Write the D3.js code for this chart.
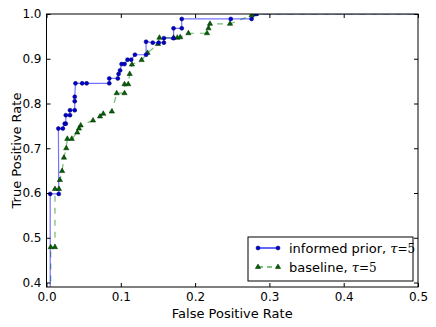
<!DOCTYPE html>
<html>
<head>
<meta charset="utf-8">
<script src="https://cdn.jsdelivr.net/npm/d3@7"></script>
<style>
  body { margin: 0; background: #fff; }
  text { font-family: "DejaVu Sans", sans-serif; }
</style>
</head>
<body>
<div id="chart-area"></div>
<script>
// ROC points: false positive rate / true positive rate
var informedFpr = [0.005, 0.005, 0.0165, 0.016, 0.022, 0.0245, 0.026, 0.026, 0.0316, 0.0316, 0.038, 0.038, 0.038,
    0.039, 0.048, 0.054, 0.0845, 0.0845, 0.096, 0.097, 0.099, 0.101, 0.105, 0.109, 0.114, 0.119, 0.134,
    0.134, 0.143, 0.151, 0.158, 0.158, 0.171, 0.171, 0.182, 0.182, 0.248, 0.276, 0.282, 1.0];
var informedTpr = [0.0, 0.598, 0.598, 0.744, 0.744, 0.755, 0.755, 0.774, 0.774, 0.785, 0.785, 0.805, 0.815,
    0.845, 0.845, 0.845, 0.845, 0.856, 0.856, 0.866, 0.874, 0.888, 0.888, 0.898, 0.898, 0.909, 0.909,
    0.938, 0.936, 0.936, 0.936, 0.946, 0.946, 0.968, 0.968, 0.989, 0.989, 0.989, 1.0, 1.0];

var baselineFpr = [0.0057, 0.0057, 0.0114, 0.0114, 0.0168, 0.018, 0.021, 0.0235, 0.0266, 0.028, 0.034,
    0.0414, 0.0437, 0.046, 0.0626, 0.072, 0.0764, 0.088, 0.0945, 0.105, 0.105, 0.110, 0.112, 0.115,
    0.128, 0.136, 0.150, 0.152, 0.171, 0.176, 0.180, 0.191, 0.216, 0.218, 0.220, 0.247, 0.276, 0.282, 1.0];
var baselineTpr = [0.0, 0.479, 0.479, 0.609, 0.609, 0.629, 0.649, 0.679, 0.700, 0.721, 0.721,
    0.735, 0.744, 0.751, 0.762, 0.771, 0.777, 0.782, 0.823, 0.823, 0.843, 0.843, 0.866, 0.887,
    0.897, 0.913, 0.933, 0.947, 0.947, 0.947, 0.948, 0.957, 0.957, 0.968, 0.978, 0.978, 0.997, 1.0, 1.0];

var xTicks = [0.0, 0.1, 0.2, 0.3, 0.4, 0.5];
var yTicks = [0.4, 0.5, 0.6, 0.7, 0.8, 0.9, 1.0];

var margin = { left: 46.5, right: 18, top: 14, bottom: 40 };
var width = 436 - margin.left - margin.right,
    height = 327 - margin.top - margin.bottom;

var svg = d3.select("#chart-area")
    .append("svg")
        .attr("width", 436)
        .attr("height", 327);
var g = svg.append("g")
        .attr("transform", "translate(" + margin.left + ", " + margin.top + ")");

svg.append("defs").append("clipPath")
    .attr("id", "plot-clip")
  .append("rect")
    .attr("width", width)
    .attr("height", height);

var x = d3.scaleLinear().domain([0, 0.5]).range([0, width]);
var y = d3.scaleLinear().domain([0.39, 1.0]).range([height, 0]);

var informed = informedFpr.map(function(d, i) { return [d, informedTpr[i]]; });
var baseline = baselineFpr.map(function(d, i) { return [d, baselineTpr[i]]; });

var line = d3.line()
    .x(function(d) { return x(d[0]); })
    .y(function(d) { return y(d[1]); });

var plot = g.append("g").attr("clip-path", "url(#plot-clip)");

// baseline, dashed green with triangles
plot.append("path")
    .datum(baseline)
    .attr("fill", "none")
    .attr("stroke", "#008000")
    .attr("stroke-opacity", 0.55)
    .attr("stroke-width", 1.2)
    .attr("stroke-dasharray", "6,6")
    .attr("d", line);

// informed prior, blue solid with dots
plot.append("path")
    .datum(informed)
    .attr("fill", "none")
    .attr("stroke", "#0000ff")
    .attr("stroke-opacity", 0.55)
    .attr("stroke-width", 1.2)
    .attr("d", line);

var tri = d3.symbol().type(d3.symbolTriangle).size(12);

plot.selectAll(".tri")
    .data(baseline)
    .enter().append("path")
    .attr("class", "tri")
    .attr("transform", function(d) { return "translate(" + x(d[0]) + "," + y(d[1]) + ")"; })
    .attr("d", tri)
    .attr("fill", "#006400")
    .attr("stroke", "#002000")
    .attr("stroke-width", 0.5);

plot.selectAll(".dot")
    .data(informed)
    .enter().append("circle")
    .attr("class", "dot")
    .attr("cx", function(d) { return x(d[0]); })
    .attr("cy", function(d) { return y(d[1]); })
    .attr("r", 2)
    .attr("fill", "#0000cc")
    .attr("stroke", "#000066")
    .attr("stroke-width", 0.5);

// Axes, matplotlib style: ticks inside on all four sides
function styleAxis(sel) {
    sel.select(".domain").remove();
    sel.selectAll("line").attr("stroke", "#000");
    sel.selectAll("text").attr("font-size", "12px").attr("fill", "#000")
        .attr("font-family", "'DejaVu Sans', sans-serif");
}

g.append("g")
    .attr("transform", "translate(0," + height + ")")
    .call(d3.axisBottom(x).tickValues(xTicks).tickFormat(d3.format(".1f"))
        .tickSizeInner(-4).tickSizeOuter(0).tickPadding(5))
    .call(styleAxis);
g.append("g")
    .call(d3.axisTop(x).tickValues(xTicks).tickFormat("")
        .tickSizeInner(-4).tickSizeOuter(0))
    .call(styleAxis);
g.append("g")
    .call(d3.axisLeft(y).tickValues(yTicks).tickFormat(d3.format(".1f"))
        .tickSizeInner(-4).tickSizeOuter(0).tickPadding(5))
    .call(styleAxis);
g.append("g")
    .attr("transform", "translate(" + width + ",0)")
    .call(d3.axisRight(y).tickValues(yTicks).tickFormat("")
        .tickSizeInner(-4).tickSizeOuter(0))
    .call(styleAxis);

// frame
g.append("rect")
    .attr("width", width)
    .attr("height", height)
    .attr("fill", "none")
    .attr("stroke", "#000")
    .attr("stroke-width", 1);

// X label
g.append("text")
    .attr("x", width / 2)
    .attr("y", height + 31)
    .attr("font-size", "13px")
    .attr("text-anchor", "middle")
    .text("False Positive Rate");

// Y label
g.append("text")
    .attr("transform", "rotate(-90)")
    .attr("x", -height / 2)
    .attr("y", -26)
    .attr("font-size", "13px")
    .attr("text-anchor", "middle")
    .text("True Positive Rate");

// Legend
var legend = g.append("g")
    .attr("transform", "translate(" + (248 - margin.left) + "," + (237 - margin.top) + ")");

legend.append("rect")
    .attr("width", 165)
    .attr("height", 44)
    .attr("fill", "#fff")
    .attr("stroke", "#000")
    .attr("stroke-width", 1);

var entries = [
    { name: "informed prior, ", color: "#0000ff", dash: null, cy: 11 },
    { name: "baseline, ", color: "#008000", dash: "5,4", cy: 30 }
];

entries.forEach(function(e, i) {
    var row = legend.append("g").attr("transform", "translate(0," + e.cy + ")");
    row.append("line")
        .attr("x1", 10).attr("x2", 30)
        .attr("stroke", e.color)
        .attr("stroke-width", 1.2)
        .attr("stroke-dasharray", e.dash);
    [10, 30].forEach(function(mx) {
        if (i === 0) {
            row.append("circle").attr("cx", mx).attr("r", 2)
                .attr("fill", "#0000cc").attr("stroke", "#000066").attr("stroke-width", 0.5);
        } else {
            row.append("path").attr("transform", "translate(" + mx + ",0)").attr("d", tri)
                .attr("fill", "#006400").attr("stroke", "#002000").attr("stroke-width", 0.5);
        }
    });
    var t = row.append("text")
        .attr("x", 41)
        .attr("y", 4.5)
        .attr("font-size", "13px");
    t.append("tspan").text(e.name);
    t.append("tspan").attr("font-family", "'DejaVu Serif', serif").attr("font-style", "italic").text("τ");
    t.append("tspan").attr("font-family", "'DejaVu Serif', serif").attr("font-size", "12px").text("=5");
});
</script>
</body>
</html>
